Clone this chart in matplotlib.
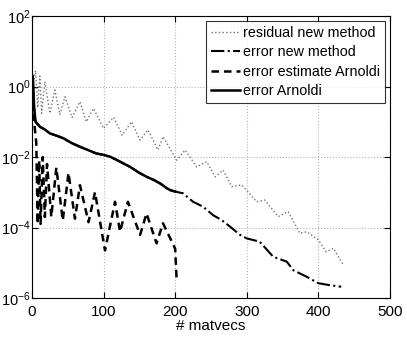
import matplotlib
matplotlib.use("Agg")
import matplotlib.pyplot as plt
import numpy as np

plt.rcParams['font.family'] = ['Liberation Sans', 'DejaVu Sans']
plt.rcParams['mathtext.fontset'] = 'custom'
plt.rcParams['mathtext.rm'] = 'Liberation Sans'
plt.rcParams['mathtext.it'] = 'Liberation Sans:italic'
plt.rcParams['mathtext.bf'] = 'Liberation Sans:bold'

# residual new method (x = matvecs, y = log10 value)
res_x = [3, 5, 8, 11, 13.5, 18, 25, 32, 39, 46, 56, 67, 76, 86, 100, 114, 126, 139, 151, 162,
         176, 183, 202, 214, 230, 244, 256, 267, 279, 293, 314, 325, 344, 358, 374, 384, 400,
         411, 421, 435]
res_y = [0.2, 0.45, -0.6, 0.3, -0.76, 0.14, -0.76, -0.10, -0.8, -0.29, -0.88, -0.43, -1.0, -0.62,
         -1.19, -0.87, -1.38, -1.0, -1.52, -1.23, -1.8, -1.42, -2.09, -1.80, -2.28, -2.13, -2.56,
         -2.37, -2.84, -2.79, -3.27, -3.22, -3.69, -3.55, -4.16, -4.12, -4.35, -4.69, -4.59, -5.06]

# error Arnoldi
arn_x = [1, 3, 5, 11, 18, 25, 35, 44, 55, 67, 78, 90, 100, 109, 120, 137, 150, 160, 170, 179,
         188, 193, 200]
arn_y = [0.3, -0.6, -1.0, -1.14, -1.22, -1.33, -1.40, -1.47, -1.6, -1.71, -1.80, -1.9, -1.94,
         -1.99, -2.1, -2.28, -2.45, -2.56, -2.65, -2.75, -2.88, -2.94, -2.98]

# error new method (continues after Arnoldi stops)
new_x = arn_x + [211, 225, 239, 253, 265, 277, 290, 300, 318, 337, 356, 365, 384, 400, 414, 432]
new_y = arn_y + [-3.03, -3.27, -3.41, -3.65, -3.79, -3.98, -4.2, -4.31, -4.40, -4.83, -4.97,
                 -5.21, -5.40, -5.58, -5.63, -5.68]

# error estimate Arnoldi
est_x = [1, 3, 6, 8, 10, 12, 15, 18, 21, 27, 34, 43, 51, 60, 67, 79, 88, 102, 116, 123, 134,
         151, 160, 174, 183, 200, 202]
est_y = [0.3, -1.0, -1.6, -3.9, -2.1, -3.9, -2.0, -3.7, -2.2, -3.7, -2.3, -3.8, -2.45, -3.75,
         -2.8, -3.85, -3.0, -4.65, -3.27, -4.12, -3.27, -4.21, -3.6, -4.45, -3.88, -4.6, -5.45]

fig = plt.figure(figsize=(4.07, 3.37), dpi=100)
ax = fig.add_axes([0.0786, 0.1157, 0.8794, 0.8368])

ax.semilogy(res_x, 10.0 ** np.array(res_y), ':', color='0.45', lw=1.0, label='residual new method')
ax.semilogy(new_x, 10.0 ** np.array(new_y), '-.', color='k', lw=1.5, label='error new method')
ax.semilogy(est_x, 10.0 ** np.array(est_y), '--', color='k', lw=1.8, dashes=(3, 2),
            label='error estimate Arnoldi')
ax.semilogy(arn_x, 10.0 ** np.array(arn_y), '-', color='k', lw=1.8, label='error Arnoldi')

ax.set_xlim(0, 500)
ax.set_ylim(1e-6, 1e2)
ax.set_xticks([0, 100, 200, 300, 400, 500])
ax.set_yticks([1e-6, 1e-4, 1e-2, 1e0, 1e2])
ax.yaxis.set_minor_locator(matplotlib.ticker.NullLocator())
ax.tick_params(direction='in', top=True, right=True, labelsize=11, length=4, pad=5)
ax.tick_params(axis='y', labelsize=10.5, pad=1)
ax.grid(True, linestyle=':', color='0.7', lw=0.8)
for s in ax.spines.values():
    s.set_linewidth(0.8)

ax.set_xlabel('# matvecs', fontsize=11, labelpad=0)

leg = ax.legend(loc='upper right', fontsize=10.3, frameon=True, fancybox=False,
                borderaxespad=0.35, handlelength=2.0, handletextpad=0.2,
                labelspacing=0.38, borderpad=0.35)
leg.get_frame().set_edgecolor('k')
leg.get_frame().set_linewidth(0.8)

fig.savefig('out.png', dpi=100)
